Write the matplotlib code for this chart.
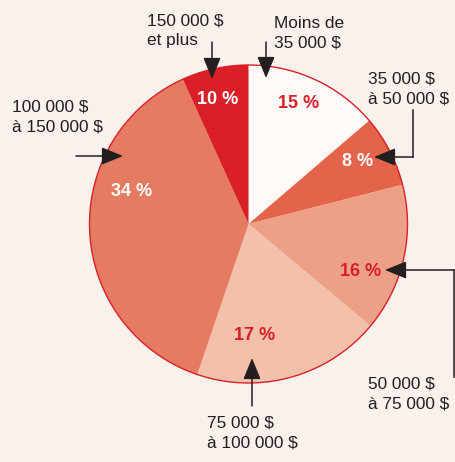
import matplotlib
matplotlib.use("Agg")
import matplotlib.pyplot as plt
from matplotlib.patches import Circle

plt.rcParams['font.family'] = ['Liberation Sans', 'DejaVu Sans']

# income brackets, clockwise from 12 o'clock
labels = ['Moins de\n35 000 $', '35 000 $\nà 50 000 $', '50 000 $\nà 75 000 $',
          '75 000 $\nà 100 000 $', '100 000 $\nà 150 000 $', '150 000 $\net plus']
pct = [15, 8, 16, 17, 34, 10]
# the printed wedges are not drawn to scale: angles (deg) as measured on the picture
slice_deg = [49.4, 26.3, 54.2, 68.9, 136.8, 24.4]
colors = ['#FFFAF7', '#E3644A', '#ECA086', '#F3C0AB', '#E57C62', '#D92027']
pct_colors = ['#D92027', 'white', '#D92027', '#D92027', 'white', 'white']

W, H = 455, 462
bg = '#F9F1EC'
ink = '#231F20'
red = '#D92027'

fig = plt.figure(figsize=(W / 100, H / 100), dpi=100, facecolor=bg)
ax = fig.add_axes([0, 0, 1, 1])
ax.set_xlim(0, W)
ax.set_ylim(0, H)
ax.set_aspect('equal')
ax.axis('off')

def Y(y):  # pixel row -> data y
    return H - y

cx, cy, r = 248.5, 224, 159
ax.pie(slice_deg, colors=colors, startangle=90, counterclock=False,
       center=(cx, Y(cy)), radius=r, wedgeprops=dict(linewidth=0))
ax.add_patch(Circle((cx, Y(cy)), r, fill=False, edgecolor=red, lw=1.0))
ax.set_xlim(0, W)
ax.set_ylim(0, H)

# percentage labels
pct_pos = [(299, 104), (358, 162), (361, 271), (255, 336), (132, 191), (218, 100)]
for s, c, (x, y) in zip(pct, pct_colors, pct_pos):
    ax.text(x, Y(y), f'{s} %', color=c, fontsize=13, fontweight='bold',
            ha='center', va='center')

# category labels (left aligned)
lab_pos = [(274, 33), (368, 89), (368, 394), (207, 433), (12, 117), (147, 31)]
for t, (x, y) in zip(labels, lab_pos):
    ax.text(x, Y(y), t, color=ink, fontsize=12.4, ha='left', va='center',
            linespacing=1.35)

ap = dict(arrowstyle='-|>,head_length=1.1,head_width=0.45', color=ink, lw=1.1,
          shrinkA=0, shrinkB=0, mutation_scale=12)

def arrow(x0, y0, x1, y1):
    ax.annotate('', xy=(x1, Y(y1)), xytext=(x0, Y(y0)), arrowprops=ap)

arrow(266, 42, 266, 78)     # moins de 35 000
arrow(212, 42, 212, 79)     # 150 000 et plus
ax.plot([413, 413], [Y(110), Y(157)], color=ink, lw=1.1)
arrow(413, 157, 374, 157)   # 35 000 a 50 000
ax.plot([454, 454], [Y(377), Y(270)], color=ink, lw=1.1)
arrow(454, 270, 385, 270)   # 50 000 a 75 000
arrow(252, 406, 252, 358)   # 75 000 a 100 000
arrow(76, 156, 123, 156)    # 100 000 a 150 000

fig.savefig('out.png', dpi=100, facecolor=bg)
